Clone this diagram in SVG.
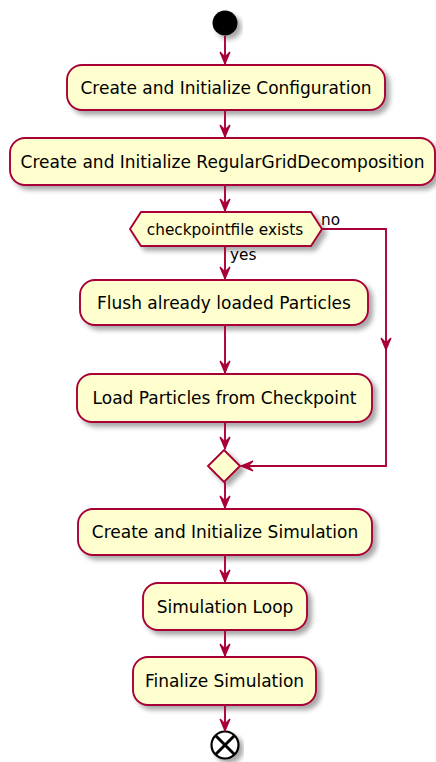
<svg xmlns="http://www.w3.org/2000/svg" width="436" height="762" viewBox="0 0 436 762">
<defs>
<filter id="sh" x="-10%" y="-20%" width="130%" height="160%">
<feGaussianBlur in="SourceAlpha" stdDeviation="2.5"/>
<feOffset dx="4" dy="4" result="b"/>
<feComponentTransfer><feFuncA type="linear" slope="0.35"/></feComponentTransfer>
<feMerge><feMergeNode/><feMergeNode in="SourceGraphic"/></feMerge>
</filter>
</defs>
<style>
.box{fill:#FEFECE;stroke:#A80036;stroke-width:1.9;filter:url(#sh)}
.t{font-family:"DejaVu Sans",sans-serif;font-size:17px;fill:#000;text-anchor:middle}
.s{font-family:"DejaVu Sans",sans-serif;font-size:15.3px;fill:#000}
.ln{fill:none;stroke:#A80036;stroke-width:1.9}
.ah{fill:#A80036;stroke:#A80036;stroke-width:1.2}
</style>
<rect width="436" height="762" fill="#FFFFFF"/>
<g id="start"><circle cx="225" cy="23" r="12.5" fill="#000" filter="url(#sh)"/></g>
<g id="n1"><rect class="box" x="67" y="65" width="318" height="45" rx="15"/><text class="t" x="226" y="93.5">Create and Initialize Configuration</text></g>
<g id="n2"><rect class="box" x="10" y="138" width="425" height="47" rx="15"/><text class="t" x="222.5" y="167.5">Create and Initialize RegularGridDecomposition</text></g>
<g id="d1"><polygon class="box" points="130,229 141,212 311,212 322,229 311,246 141,246"/><text class="s" x="225" y="234.5" text-anchor="middle">checkpointfile exists</text></g>
<g id="n3"><rect class="box" x="80" y="280" width="288" height="45" rx="15"/><text class="t" x="224" y="308.5">Flush already loaded Particles</text></g>
<g id="n4"><rect class="box" x="77" y="374" width="295" height="48" rx="15"/><text class="t" x="224.5" y="404">Load Particles from Checkpoint</text></g>
<g id="m1"><polygon class="box" points="224,450 240,466 224,482 208,466"/></g>
<g id="n5"><rect class="box" x="78" y="509" width="294" height="46" rx="15"/><text class="t" x="225" y="538">Create and Initialize Simulation</text></g>
<g id="n6"><rect class="box" x="143" y="583" width="164" height="47" rx="15"/><text class="t" x="225" y="612.5">Simulation Loop</text></g>
<g id="n7"><rect class="box" x="133" y="657" width="183" height="48" rx="15"/><text class="t" x="224.5" y="687">Finalize Simulation</text></g>
<g id="end"><g filter="url(#sh)"><circle cx="225" cy="745" r="13.5" fill="#FFFFFF" stroke="#000" stroke-width="2.2"/><path d="M215.5,735.5 L234.5,754.5 M234.5,735.5 L215.5,754.5" stroke="#000" stroke-width="3" fill="none"/></g></g>
<g id="connectors">
<path class="ln" d="M225,36 V64"/><polygon class="ah" points="220,52 225,64 230,52 225,57"/>
<path class="ln" d="M225,110 V137"/><polygon class="ah" points="220,125 225,137 230,125 225,130"/>
<path class="ln" d="M225,185 V211"/><polygon class="ah" points="220,199 225,211 230,199 225,204"/>
<path class="ln" d="M225,246 V279"/><polygon class="ah" points="220,267 225,279 230,267 225,272"/>
<path class="ln" d="M225,325 V373"/><polygon class="ah" points="220,361 225,373 230,361 225,366"/>
<path class="ln" d="M225,422 V449"/><polygon class="ah" points="220,437 225,449 230,437 225,442"/>
<path class="ln" d="M225,482 V508"/><polygon class="ah" points="220,496 225,508 230,496 225,501"/>
<path class="ln" d="M225,555 V582"/><polygon class="ah" points="220,570 225,582 230,570 225,575"/>
<path class="ln" d="M225,630 V656"/><polygon class="ah" points="220,644 225,656 230,644 225,649"/>
<path class="ln" d="M225,705 V731"/><polygon class="ah" points="220,719 225,731 230,719 225,724"/>
<path class="ln" d="M322,229 H386 V466 H241"/>
<polygon class="ah" points="381,338 386,350 391,338 386,343"/>
<polygon class="ah" points="253,461 241,466 253,471 248,466"/>
<text class="s" x="230" y="260">yes</text>
<text class="s" x="321" y="225">no</text>
</g>
</svg>
